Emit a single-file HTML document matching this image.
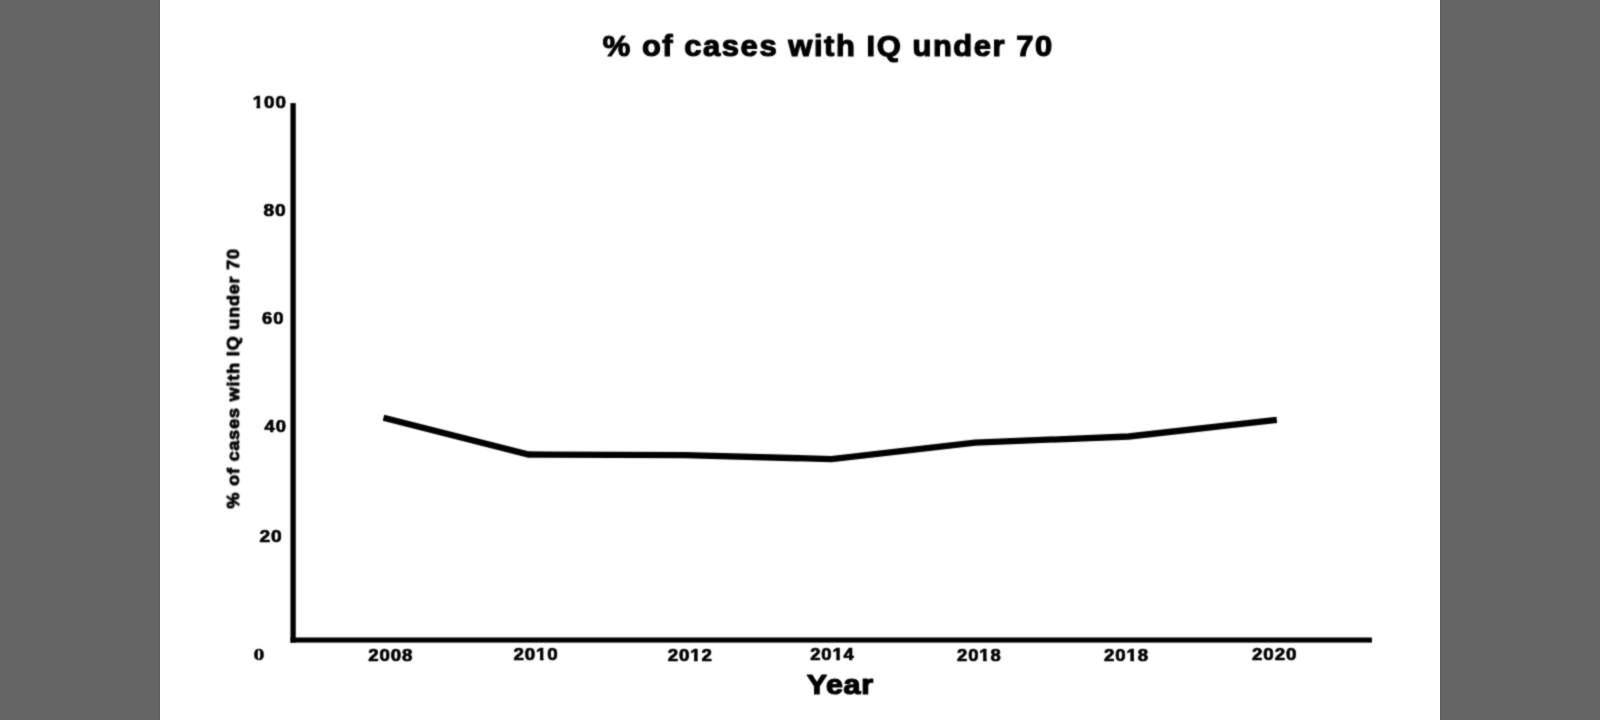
<!DOCTYPE html>
<html lang="en">
<head>
<meta charset="utf-8">
<title>% of cases with IQ under 70</title>
<style>
html,body{margin:0;padding:0;width:1600px;height:720px;overflow:hidden;background:#656565;}
.stage{position:absolute;left:0;top:0;width:1600px;height:720px;background:#656565;}
.chart{position:absolute;left:160px;top:0;width:1280px;height:720px;background:#fff;}
svg{position:absolute;left:0;top:0;display:block;}
text{white-space:pre;}
</style>
</head>
<body>
<div class="stage">
<div class="chart"></div>
<svg width="1600" height="720" viewBox="0 0 1600 720">
<defs>
<filter id="soft" x="0" y="0" width="1600" height="720" filterUnits="userSpaceOnUse" color-interpolation-filters="sRGB">
<feConvolveMatrix order="3" kernelMatrix="1 2 1 2 10 2 1 2 1" divisor="22" edgeMode="duplicate" preserveAlpha="false"/>
</filter>
</defs>
<rect x="158.9" y="0" width="1.1" height="720" fill="#5e5e5e"/>
<rect x="1440" y="0" width="1.1" height="720" fill="#5e5e5e"/>
<g filter="url(#soft)">
<rect x="290.45" y="103.1" width="5.3" height="539.5" fill="#000"/>
<rect x="290.45" y="637.5" width="1081.5" height="5.1" fill="#000"/>
<polyline points="383.5,417.7 528.6,454.5 685,455.1 831.4,459.1 975.1,442.6 1128.6,436.5 1276.8,419.8" fill="none" stroke="#000" stroke-width="6.3" stroke-linejoin="miter" stroke-linecap="butt"/>
<text font-family='"Liberation Sans", Arial, Helvetica, sans-serif' font-weight="700" font-size="30" fill="#000" stroke="#000" stroke-width="1.2" stroke-linejoin="round" transform="matrix(1.0319 0 0 0.9652 602.66 56.28)" letter-spacing="1.5">% of cases with IQ under 70</text>
<clipPath id="cy100"><path clip-rule="evenodd" d="M-20 -40H300V20H-20ZM-0.28 -2.23H3.50V4.35H-0.28ZM6.77 -2.23H10.33V4.35H6.77Z"/></clipPath><text font-family='"Liberation Sans", Arial, Helvetica, sans-serif' font-weight="700" font-size="17" fill="#000" stroke="#000" stroke-width="0.7" stroke-linejoin="round" transform="matrix(1.1067 0 0 0.9616 252.71 107.51)" letter-spacing="0.8" clip-path="url(#cy100)">100</text>
<text font-family='"Liberation Sans", Arial, Helvetica, sans-serif' font-weight="700" font-size="17" fill="#000" stroke="#000" stroke-width="0.7" stroke-linejoin="round" transform="matrix(1.1306 0 0 0.9948 263.52 215.64)" letter-spacing="0.8">80</text>
<text font-family='"Liberation Sans", Arial, Helvetica, sans-serif' font-weight="700" font-size="17" fill="#000" stroke="#000" stroke-width="0.7" stroke-linejoin="round" transform="matrix(1.0837 0 0 1.0235 262.12 324.16)" letter-spacing="0.8">60</text>
<text font-family='"Liberation Sans", Arial, Helvetica, sans-serif' font-weight="700" font-size="17" fill="#000" stroke="#000" stroke-width="0.7" stroke-linejoin="round" transform="matrix(1.0841 0 0 0.9326 264.61 431.73)" letter-spacing="0.8">40</text>
<text font-family='"Liberation Sans", Arial, Helvetica, sans-serif' font-weight="700" font-size="17" fill="#000" stroke="#000" stroke-width="0.7" stroke-linejoin="round" transform="matrix(1.1271 0 0 0.9571 259.42 541.73)" letter-spacing="0.8">20</text>
<text font-family='"Liberation Serif", "Times New Roman", serif' font-weight="700" font-size="18" fill="#000" stroke="#000" stroke-width="0.4" stroke-linejoin="round" transform="matrix(1.2159 0 0 0.9576 253.52 660.26)" letter-spacing="0">0</text>
<text font-family='"Liberation Sans", Arial, Helvetica, sans-serif' font-weight="700" font-size="17" fill="#000" stroke="#000" stroke-width="0.7" stroke-linejoin="round" transform="matrix(1.0994 0 0 1.0128 368.13 660.77)" letter-spacing="0.8">2008</text>
<clipPath id="cx2010"><path clip-rule="evenodd" d="M-20 -40H300V20H-20ZM20.23 -2.23H24.01V4.35H20.23ZM27.28 -2.23H30.84V4.35H27.28Z"/></clipPath><text font-family='"Liberation Sans", Arial, Helvetica, sans-serif' font-weight="700" font-size="17" fill="#000" stroke="#000" stroke-width="0.7" stroke-linejoin="round" transform="matrix(1.1033 0 0 1.0004 513.43 659.71)" letter-spacing="0.8" clip-path="url(#cx2010)">2010</text>
<clipPath id="cx2012"><path clip-rule="evenodd" d="M-20 -40H300V20H-20ZM20.23 -2.23H24.01V4.35H20.23ZM27.28 -2.23H30.84V4.35H27.28Z"/></clipPath><text font-family='"Liberation Sans", Arial, Helvetica, sans-serif' font-weight="700" font-size="17" fill="#000" stroke="#000" stroke-width="0.7" stroke-linejoin="round" transform="matrix(1.1000 0 0 1.0013 667.63 660.63)" letter-spacing="0.8" clip-path="url(#cx2012)">2012</text>
<clipPath id="cx2014"><path clip-rule="evenodd" d="M-20 -40H300V20H-20ZM20.23 -2.23H24.01V4.35H20.23ZM27.28 -2.23H30.84V4.35H27.28Z"/></clipPath><text font-family='"Liberation Sans", Arial, Helvetica, sans-serif' font-weight="700" font-size="17" fill="#000" stroke="#000" stroke-width="0.7" stroke-linejoin="round" transform="matrix(1.0862 0 0 0.9626 810.22 659.66)" letter-spacing="0.8" clip-path="url(#cx2014)">2014</text>
<clipPath id="cx2018a"><path clip-rule="evenodd" d="M-20 -40H300V20H-20ZM20.23 -2.23H24.01V4.35H20.23ZM27.28 -2.23H30.84V4.35H27.28Z"/></clipPath><text font-family='"Liberation Sans", Arial, Helvetica, sans-serif' font-weight="700" font-size="17" fill="#000" stroke="#000" stroke-width="0.7" stroke-linejoin="round" transform="matrix(1.0862 0 0 1.0011 957.03 660.63)" letter-spacing="0.8" clip-path="url(#cx2018a)">2018</text>
<clipPath id="cx2018b"><path clip-rule="evenodd" d="M-20 -40H300V20H-20ZM20.23 -2.23H24.01V4.35H20.23ZM27.28 -2.23H30.84V4.35H27.28Z"/></clipPath><text font-family='"Liberation Sans", Arial, Helvetica, sans-serif' font-weight="700" font-size="17" fill="#000" stroke="#000" stroke-width="0.7" stroke-linejoin="round" transform="matrix(1.0980 0 0 1.0011 1104.03 660.63)" letter-spacing="0.8" clip-path="url(#cx2018b)">2018</text>
<text font-family='"Liberation Sans", Arial, Helvetica, sans-serif' font-weight="700" font-size="17" fill="#000" stroke="#000" stroke-width="0.7" stroke-linejoin="round" transform="matrix(1.1037 0 0 0.9533 1252.02 659.69)" letter-spacing="0.8">2020</text>
<text font-family='"Liberation Sans", Arial, Helvetica, sans-serif' font-weight="700" font-size="28" fill="#000" stroke="#000" stroke-width="1.3" stroke-linejoin="round" transform="matrix(1.0887 0 0 0.9607 806.73 693.51)" letter-spacing="0.6">Year</text>
<text font-family='"Liberation Sans", Arial, Helvetica, sans-serif' font-weight="700" font-size="17" fill="#000" stroke="#000" stroke-width="0.9" stroke-linejoin="round" transform="matrix(0 -1.0510 0.9736 0 238.51 508.48)" letter-spacing="0.85">% of cases with IQ under 70</text>
</g>
</svg>
</div>
</body>
</html>
